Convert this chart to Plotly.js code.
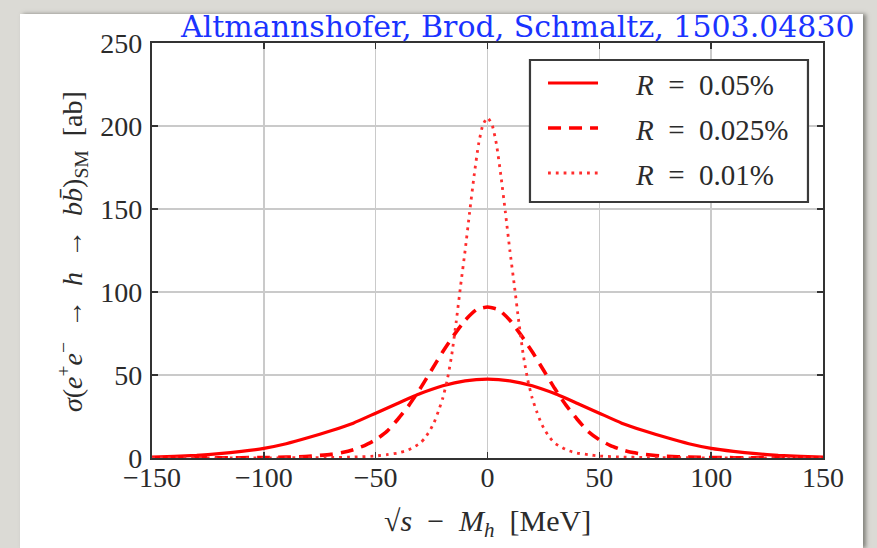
<!DOCTYPE html>
<html>
<head>
<meta charset="utf-8">
<script src="https://cdn.plot.ly/plotly-3.0.1.min.js"></script>
<style>
  html, body { margin: 0; padding: 0; }
  body { width: 877px; height: 548px; background: #dbdad5; position: relative; overflow: hidden; }
  #panel { position: absolute; left: 20px; top: 14px; width: 843px; height: 534px;
           background: #ffffff; box-shadow: 3px 0 4px rgba(60,60,55,0.55); }
  #chart { position: absolute; left: 0; top: 0; width: 877px; height: 548px; }
</style>
</head>
<body>
<div id="panel"></div>
<div id="chart"></div>
<script>
// Higgs resonance line shape for three beam energy spreads R
const seriesNames = ['R = 0.05%', 'R = 0.025%', 'R = 0.01%'];
const legendValues = ['0.05%', '0.025%', '0.01%'];

const xWide = [-150, -140, -130, -120, -110, -100, -90, -80, -70, -60, -50, -40, -30, -20, -10, 0,
               10, 20, 30, 40, 50, 60, 70, 80, 90, 100, 110, 120, 130, 140, 150];
const yWide = [0.6, 1.0, 1.6, 2.6, 4.0, 5.8, 8.6, 12.3, 16.4, 21.0, 27.0, 33.0, 38.8, 43.5, 46.5, 47.5,
               46.5, 43.5, 38.8, 33.0, 27.0, 21.0, 16.4, 12.3, 8.6, 5.8, 4.0, 2.6, 1.6, 1.0, 0.6];

const xMid = [-150, -120, -100, -90, -80, -70, -65, -60, -55, -50, -45, -40, -35, -30, -25, -20, -15, -10, -5, 0,
              5, 10, 15, 20, 25, 30, 35, 40, 45, 50, 55, 60, 65, 70, 80, 90, 100, 120, 150];
const yMid = [0.0, 0.1, 0.3, 0.5, 1.0, 2.2, 3.3, 5.0, 7.5, 11.0, 16.0, 23.5, 32.0, 42.0, 53.0, 64.0, 74.0, 83.0, 89.3, 91.0,
              89.3, 83.0, 74.0, 64.0, 53.0, 42.0, 32.0, 23.5, 16.0, 11.0, 7.5, 5.0, 3.3, 2.2, 1.0, 0.5, 0.3, 0.1, 0.0];

const xNarrow = [-150, -120, -100, -80, -70, -60, -50, -45, -40, -36, -33, -30, -28, -26, -24, -22, -20, -18, -16, -14,
                 -12, -10, -8, -6, -4, -2, 0, 2, 4, 6, 8, 10, 12, 14, 16, 18, 20, 22, 24, 26, 28, 30, 33, 36, 40,
                 45, 50, 60, 70, 80, 100, 120, 150];
const yNarrow = [0.0, 0.05, 0.1, 0.2, 0.3, 0.6, 1.2, 2.0, 3.0, 4.5, 6.5, 9.0, 12.0, 16.0, 21.0, 28.0, 36.0, 47.0, 62.0, 82.0,
                 104.0, 125.0, 148.0, 170.0, 189.0, 201.0, 205.0, 201.0, 189.0, 170.0, 148.0, 125.0, 104.0, 82.0, 62.0, 47.0, 36.0, 28.0, 21.0, 16.0, 12.0, 9.0, 6.5, 4.5, 3.0,
                 2.0, 1.2, 0.6, 0.3, 0.2, 0.1, 0.05, 0.0];

const xTicks = [-150, -100, -50, 0, 50, 100, 150];
const xTickText = ['\u2212150', '\u2212100', '\u221250', '0', '50', '100', '150'];
const yTicks = [0, 50, 100, 150, 200, 250];

const red = '#ff0000';
const serif = '"Liberation Serif", "DejaVu Serif", serif';
const ink = '#2b2b2b';

const lineStyles = [
  { width: 3.2, dash: 'solid', color: red },
  { width: 3.6, dash: '13px,8px', color: red },
  { width: 2.8, dash: '2.8px,5px', color: 'rgb(255,45,45)' }
];

const traces = [
  { x: xWide, y: yWide, name: seriesNames[0] },
  { x: xMid, y: yMid, name: seriesNames[1] },
  { x: xNarrow, y: yNarrow, name: seriesNames[2] }
].map((t, i) => Object.assign(t, {
  type: 'scatter', mode: 'lines', showlegend: false, hoverinfo: 'skip',
  line: Object.assign({ shape: 'spline', smoothing: 0.5 }, lineStyles[i])
}));

// Legend box drawn in paper coordinates
const legBox = { x0: 0.5633, x1: 0.9776, y0: 0.6169, y1: 0.959 };
const legRows = [0.9036, 0.7952, 0.6867];
const legLine = { x0: 0.5902, x1: 0.6647 };
const legTextX = 0.7168;

const shapes = [{
  type: 'rect', xref: 'paper', yref: 'paper',
  x0: legBox.x0, x1: legBox.x1, y0: legBox.y0, y1: legBox.y1,
  line: { color: '#3a3a3a', width: 2.2 }, fillcolor: '#ffffff', layer: 'above'
}];
legRows.forEach((yy, i) => {
  shapes.push({
    type: 'line', xref: 'paper', yref: 'paper',
    x0: legLine.x0, x1: legLine.x1, y0: yy, y1: yy,
    line: lineStyles[i], layer: 'above'
  });
});

const annotations = legendValues.map((v, i) => ({
  xref: 'paper', yref: 'paper', x: legTextX, y: legRows[i] - 0.004,
  xanchor: 'left', yanchor: 'middle', showarrow: false,
  text: '<i>R</i>\u2002=\u2002' + v,
  font: { family: serif, size: 29, color: ink }
}));

annotations.push({
  xref: 'paper', yref: 'paper', x: 0.5007, y: -0.157,
  xanchor: 'center', yanchor: 'middle', showarrow: false,
  text: '\u221a<i>s</i>\u2002\u2212\u2002<i>M</i><sub><i>h</i></sub>\u2002[MeV]',
  font: { family: serif, size: 30, color: ink }
});

annotations.push({
  xref: 'paper', yref: 'paper', x: -0.1177, y: 0.4964,
  xanchor: 'center', yanchor: 'middle', showarrow: false, textangle: -90,
  text: '<i>\u03c3</i>(<i>e</i><sup>+</sup><i>e</i><sup>\u2212</sup>\u2002\u2192\u2002<i>h</i>\u2002\u2192\u2002<i>b</i><i>b\u0304</i>)<sub>SM</sub>\u2002[ab]',
  font: { family: serif, size: 28, color: ink }
});

// Citation line in the top right corner
annotations.push({
  xref: 'paper', yref: 'paper', x: 1.0507, y: 1.0386,
  xanchor: 'right', yanchor: 'middle', showarrow: false,
  text: 'Altmannshofer, Brod, Schmaltz, 1503.04830',
  font: { family: '"DejaVu Serif", serif', size: 30, color: '#1a33ff', lineposition: 'none' }
});

const axisCommon = {
  showgrid: true, gridcolor: '#cacaca', gridwidth: 1.6,
  zeroline: false, showline: true, linecolor: '#333333', linewidth: 2.2,
  mirror: 'ticks', ticks: 'inside', ticklen: 6, tickwidth: 1.6, tickcolor: '#333333',
  tickfont: { family: serif, size: 28, color: ink }, fixedrange: true
};

const layout = {
  width: 877, height: 548,
  margin: { l: 152, r: 54, t: 43, b: 90 },
  paper_bgcolor: 'rgba(0,0,0,0)', plot_bgcolor: '#ffffff',
  xaxis: Object.assign({}, axisCommon, {
    range: [-150, 150], tickvals: xTicks, ticktext: xTickText, ticklabelstandoff: -7
  }),
  yaxis: Object.assign({}, axisCommon, {
    range: [0, 250], tickvals: yTicks, ticklabelstandoff: 2
  }),
  shapes: shapes,
  annotations: annotations
};

Plotly.newPlot('chart', traces, layout, { displayModeBar: false, staticPlot: true });
</script>
</body>
</html>
